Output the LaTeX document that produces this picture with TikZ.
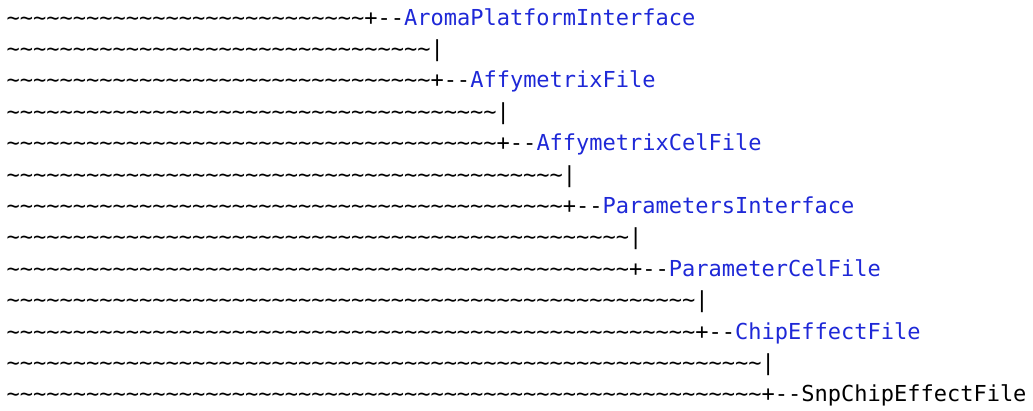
\documentclass[tikz,border=0pt]{standalone}
\usepackage{fontspec}
\setmonofont{DejaVu Sans Mono}
\definecolor{classblue}{RGB}{30,40,215}
\def \linesep {31.4pt}
\def \firstline {25pt}
\def \leftx {6.5pt}
\newcommand{\condlt}[4]{\ifnum#1<#2#3\else#4\fi}
\newcommand{\tildes}[1]{\foreach \t in {1,...,#1}{\char`\~}}
\tikzstyle{treeline}=[anchor=base west, inner sep=0pt, font=\ttfamily\fontsize{22}{26}\selectfont]

\begin{document}
\begin{tikzpicture}

\useasboundingbox (0,0) rectangle (1033pt,-410pt);

% class lines
\foreach \k/\cls in {0/AromaPlatformInterface, 1/AffymetrixFile, 2/AffymetrixCelFile, 3/ParametersInterface, 4/ParameterCelFile, 5/ChipEffectFile, 6/SnpChipEffectFile} {
    \pgfmathtruncatemacro{\ntl}{27 + 5 * \k}
    \node[treeline] (C\k) at (\leftx, {-\firstline - 2 * \k * \linesep}) {\tildes{\ntl}+--\condlt{\k}{6}{\textcolor{classblue}{\cls}}{\cls}};
}

% bars between them
\foreach \k in {0, ..., 5} {
    \pgfmathtruncatemacro{\ntl}{32 + 5 * \k}
    \node[treeline] (B\k) at (\leftx, {-\firstline - (2 * \k + 1) * \linesep}) {\tildes{\ntl}|};
}

\end{tikzpicture}
\end{document}
